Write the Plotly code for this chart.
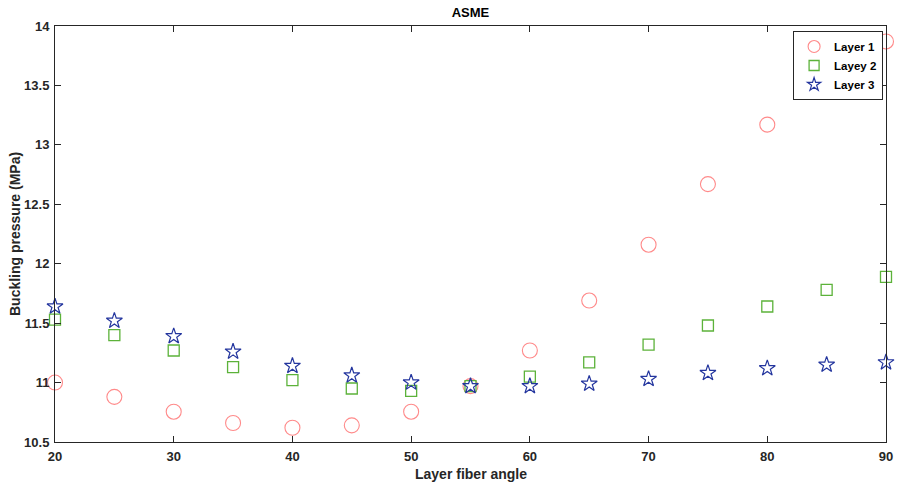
import plotly.graph_objects as go

angles = [20, 25, 30, 35, 40, 45, 50, 55, 60, 65, 70, 75, 80, 85, 90]
layer1 = [11.00, 10.88, 10.755, 10.66, 10.62, 10.64, 10.755, 10.97, 11.27, 11.69, 12.16, 12.67, 13.17, 13.58, 13.87]
layer2 = [11.53, 11.40, 11.27, 11.13, 11.02, 10.95, 10.93, 10.97, 11.05, 11.17, 11.32, 11.48, 11.64, 11.78, 11.89]
layer3 = [11.64, 11.52, 11.39, 11.26, 11.14, 11.06, 11.00, 10.97, 10.97, 10.99, 11.03, 11.08, 11.12, 11.15, 11.17]
names = ["Layer 1", "Layey 2", "Layer 3"]
xticks = [20, 30, 40, 50, 60, 70, 80, 90]
yticks = [10.5, 11, 11.5, 12, 12.5, 13, 13.5, 14]

styles = [
    dict(symbol="circle-open", size=15, color="#ff8a8a", width=1.1, lsize=12),
    dict(symbol="square-open", size=11, color="#5cb23a", width=1.3, lsize=10),
    dict(symbol="star-open", size=12, color="#23359e", width=1.2, lsize=10),
]

fig = go.Figure()
for name, ys, s in zip(names, [layer1, layer2, layer3], styles):
    fig.add_trace(go.Scatter(x=angles, y=ys, mode="markers", name=name, showlegend=False,
                             legendgroup=name, cliponaxis=False,
                             marker=dict(symbol=s["symbol"], size=s["size"], color=s["color"],
                                         line=dict(width=s["width"]))))
for name, s in zip(names, styles):
    fig.add_trace(go.Scatter(x=[None], y=[None], mode="markers", name=name, showlegend=True,
                             legendgroup=name,
                             marker=dict(symbol=s["symbol"], size=s["lsize"], color=s["color"],
                                         line=dict(width=s["width"]))))

axis_common = dict(showline=True, linecolor="#262626", linewidth=1, mirror="ticks",
                   ticks="inside", ticklen=6, tickcolor="#262626", showgrid=False, zeroline=False,
                   automargin=False,
                   tickfont=dict(family="Liberation Sans", size=13, color="#262626", weight="bold"))

fig.update_layout(
    width=899, height=484,
    paper_bgcolor="white", plot_bgcolor="white",
    margin=dict(l=55, r=13, t=26, b=42, autoexpand=False),
    font=dict(family="Liberation Sans", color="#262626"),
    title=dict(text="ASME", x=(55 + 886) / 2 / 899, xanchor="center",
               y=1 - 12 / 484, yanchor="middle",
               font=dict(size=13, color="black", weight="bold")),
    xaxis=dict(range=[20, 90], tickvals=xticks, ticklabelstandoff=2, **axis_common),
    yaxis=dict(range=[10.5, 14], tickvals=yticks, ticklabelstandoff=2, **axis_common),
    legend=dict(x=0.9965, y=0.988, xanchor="right", yanchor="top", bgcolor="white",
                bordercolor="#262626", borderwidth=1,
                font=dict(size=11.5, color="black", weight="bold"),
                itemwidth=30, tracegroupgap=0, traceorder="normal"),
    showlegend=True,
    annotations=[
        dict(text="Layer fiber angle", xref="paper", yref="paper", x=0.5, y=-32 / 416,
             xanchor="center", yanchor="middle", showarrow=False,
             font=dict(size=14, color="#262626", weight="bold")),
        dict(text="Buckling pressure (MPa)", xref="paper", yref="paper", x=-40 / 831, y=0.5,
             xanchor="center", yanchor="middle", showarrow=False, textangle=-90,
             font=dict(size=14, color="#262626", weight="bold")),
    ],
)

fig.write_html("out.html", config={"displayModeBar": False},
               post_script="document.body.style.margin='0';document.body.style.overflow='hidden';")
